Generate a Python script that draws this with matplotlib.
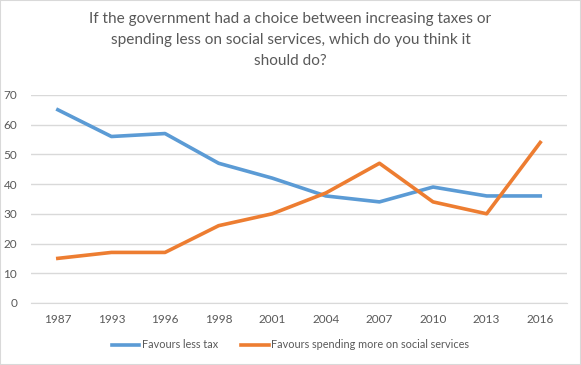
import matplotlib
matplotlib.use('Agg')
import matplotlib.pyplot as plt
from matplotlib.patches import Rectangle

years = ['1987', '1993', '1996', '1998', '2001', '2004', '2007', '2010', '2013', '2016']
less_tax = [65, 56, 57, 47, 42, 36, 34, 39, 36, 36]
more_spending = [15, 17, 17, 26, 30, 37, 47, 34, 30, 54]
title = ('If the government had a choice between increasing taxes or\n'
         'spending less on social services, which do you think it\n'
         'should do?')

plt.rcParams['font.family'] = ['Lato', 'DejaVu Sans']
text_col = '#595959'

fig = plt.figure(figsize=(5.81, 3.65), dpi=100)
ax = fig.add_axes([0.0534, 0.170, 0.9226, 0.570])

x = range(len(years))
ax.plot(x, less_tax, color='#5B9BD5', lw=2.6, label='Favours less tax',
        solid_joinstyle='round')
ax.plot(x, more_spending, color='#ED7D31', lw=2.6,
        label='Favours spending more on social services', solid_joinstyle='round')

ax.set_xlim(-0.5, len(years) - 0.5)
ax.set_ylim(0, 70)
ax.set_yticks(range(0, 71, 10))
ax.set_xticks(list(x))
ax.set_xticklabels(years)
ax.grid(axis='y', color='#d9d9d9', lw=1)
ax.set_axisbelow(True)
for s in ['top', 'right', 'left']:
    ax.spines[s].set_visible(False)
ax.spines['bottom'].set_color('#d9d9d9')
ax.tick_params(length=0, labelsize=8.5, colors=text_col, pad=8)
ax.tick_params(axis='y', pad=10)

fig.text(0.5, 0.966, title, ha='center', va='top', fontsize=11.1,
         color=text_col, linespacing=1.6)

fig.legend(loc='center', bbox_to_anchor=(0.5, 0.055), ncol=2, frameon=False,
           fontsize=7.8, labelcolor=text_col, handlelength=2.5, handletextpad=0.2,
           columnspacing=2.2)

fig.patches.append(Rectangle((0, 0), 1, 1, transform=fig.transFigure, fill=False,
                             edgecolor='#d9d9d9', lw=1.5))

fig.savefig('out.png', dpi=100)
